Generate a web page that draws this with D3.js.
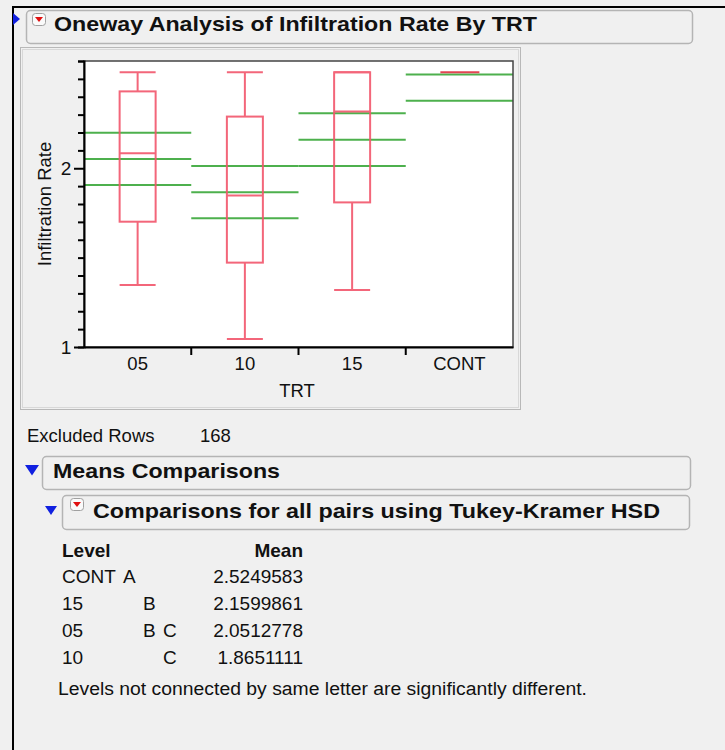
<!DOCTYPE html>
<html>
<head>
<meta charset="utf-8">
<script src="https://cdn.jsdelivr.net/npm/d3@7"></script>
<style>
  body { margin: 0; background: #f0f0f0; }
  svg { display: block; font-family: "Liberation Sans", Arial, sans-serif; }
</style>
</head>
<body>
<svg id="chart" width="725" height="750"></svg>
<script>
// Data
var levels = ["05", "10", "15", "CONT"];
var whiskerHigh = [2.537, 2.537, 2.537, 2.537];
var q3 = [2.430, 2.289, 2.537, 2.537];
var median = [2.084, 1.847, 2.318, 2.537];
var q1 = [1.701, 1.472, 1.809, 2.537];
var whiskerLow = [1.347, 1.045, 1.319, 2.537];
var meanLine = [2.0513, 1.8651, 2.1600, 2.5250];
var ciLow = [1.906, 1.720, 2.013, 2.378];
var ciHigh = [2.199, 2.013, 2.307, 2.672];
var yTicks = [1, 2];

// comparison table
var tblLevel = ["CONT", "15", "05", "10"];
var tblLetters = [["A", "", ""], ["", "B", ""], ["", "B", "C"], ["", "", "C"]];
var tblMean = ["2.5249583", "2.1599861", "2.0512778", "1.8651111"];

var red = "#f2566c", green = "#3aa83a";

var svg = d3.select("#chart");

// outer frame lines
svg.append("line").attr("x1", 13).attr("x2", 725).attr("y1", 7).attr("y2", 7)
    .attr("stroke", "#000").attr("stroke-width", 2);
svg.append("line").attr("x1", 13).attr("x2", 13).attr("y1", 6).attr("y2", 750)
    .attr("stroke", "#000").attr("stroke-width", 2);

function outlineBox(x, y, w, h) {
    svg.append("rect").attr("x", x + 0.5).attr("y", y + 0.5).attr("width", w).attr("height", h)
        .attr("rx", 4).attr("fill", "#f0f0f0").attr("stroke", "#b4b4b4").attr("stroke-width", 1.5);
}
function blueTri(x, y, s) {
    svg.append("path").attr("d", "M" + x + "," + y + "L" + (x + s) + "," + y + "L" + (x + s / 2) + "," + (y + s * 0.75) + "Z")
        .attr("fill", "#1020e0");
}
function redIcon(x, y) {
    svg.append("rect").attr("x", x + 0.5).attr("y", y + 0.5).attr("width", 13).attr("height", 12)
        .attr("rx", 3).attr("fill", "#fafafa").attr("stroke", "#a0a0a0");
    svg.append("path").attr("d", "M" + (x + 3) + "," + (y + 4) + "L" + (x + 11) + "," + (y + 4) + "L" + (x + 7) + "," + (y + 9) + "Z")
        .attr("fill", "#e01010");
}
function title(x, y, t, len) {
    svg.append("text").attr("x", x).attr("y", y).text(t)
        .attr("font-size", 21).attr("font-weight", "bold").attr("fill", "#111")
        .attr("textLength", len).attr("lengthAdjust", "spacingAndGlyphs");
}

// title bar
outlineBox(26, 10, 666, 33);
svg.append("path").attr("d", "M13,13L20,19L13,25Z").attr("fill", "#1020e0");
redIcon(32, 13);
title(54, 31, "Oneway Analysis of Infiltration Rate By TRT", 483);

// plot panel
svg.append("rect").attr("x", 20.5).attr("y", 47.5).attr("width", 500).attr("height", 362)
    .attr("fill", "#f0f0f0").attr("stroke", "#b8b8b8").attr("stroke-width", 1);
svg.append("rect").attr("x", 22.5).attr("y", 49.5).attr("width", 496).attr("height", 358)
    .attr("fill", "none").attr("stroke", "#d8d8d8").attr("stroke-width", 1);

var margin = { left: 84, top: 61, right: 513, bottom: 347 };

var x = d3.scaleBand().domain(levels).range([margin.left, margin.right]);
var y = d3.scaleLinear().domain([1, 2.6]).range([margin.bottom, margin.top]);

var plot = svg.append("g");
plot.append("rect").attr("x", margin.left).attr("y", margin.top)
    .attr("width", margin.right - margin.left).attr("height", margin.bottom - margin.top)
    .attr("fill", "#fff");

svg.append("clipPath").attr("id", "clip").append("rect")
    .attr("x", margin.left).attr("y", margin.top)
    .attr("width", margin.right - margin.left).attr("height", margin.bottom - margin.top);

var marks = plot.append("g").attr("clip-path", "url(#clip)");

// green mean / confidence lines
levels.forEach(function(lv, i) {
    [ciHigh[i], meanLine[i], ciLow[i]].forEach(function(v) {
        marks.append("line")
            .attr("x1", x(lv)).attr("x2", x(lv) + x.bandwidth())
            .attr("y1", y(v)).attr("y2", y(v))
            .attr("stroke", green).attr("stroke-width", 2).attr("opacity", 0.9);
    });
});

// box plots
var boxW = 36;
levels.forEach(function(lv, i) {
    var cx = x(lv) + x.bandwidth() / 2;
    var g = marks.append("g").attr("stroke", red).attr("stroke-width", 2).attr("fill", "none").attr("opacity", 0.9);
    if (q3[i] === q1[i]) {
        g.append("line").attr("x1", cx - 19).attr("x2", cx + 20)
            .attr("y1", y(median[i])).attr("y2", y(median[i])).attr("stroke", "#e03040");
        return;
    }
    g.append("line").attr("x1", cx).attr("x2", cx).attr("y1", y(whiskerHigh[i])).attr("y2", y(q3[i]));
    g.append("line").attr("x1", cx).attr("x2", cx).attr("y1", y(q1[i])).attr("y2", y(whiskerLow[i]));
    g.append("line").attr("x1", cx - boxW / 2).attr("x2", cx + boxW / 2)
        .attr("y1", y(whiskerHigh[i])).attr("y2", y(whiskerHigh[i]));
    g.append("line").attr("x1", cx - boxW / 2).attr("x2", cx + boxW / 2)
        .attr("y1", y(whiskerLow[i])).attr("y2", y(whiskerLow[i]));
    g.append("rect").attr("x", cx - boxW / 2).attr("y", y(q3[i]))
        .attr("width", boxW).attr("height", y(q1[i]) - y(q3[i]));
    g.append("line").attr("x1", cx - boxW / 2).attr("x2", cx + boxW / 2)
        .attr("y1", y(median[i])).attr("y2", y(median[i]));
});

// frame
plot.append("rect").attr("x", margin.left).attr("y", margin.top)
    .attr("width", margin.right - margin.left).attr("height", margin.bottom - margin.top)
    .attr("fill", "none").attr("stroke", "#444").attr("stroke-width", 1.5);

// y axis
var yAxis = d3.axisLeft(y).tickValues(d3.range(1, 2.61, 0.1)).tickSize(6).tickFormat("");
var gy = svg.append("g").attr("transform", "translate(" + margin.left + ",0)").call(yAxis);
gy.select(".domain").attr("stroke", "#000").attr("stroke-width", 2);
gy.selectAll(".tick line").attr("stroke", "#000").attr("stroke-width", 2);
gy.selectAll(".tick").filter(function(d) { return yTicks.some(function(t) { return Math.abs(t - d) < 1e-6; }); })
    .select("line").attr("x2", -10);
yTicks.forEach(function(t) {
    svg.append("text").attr("x", 66).attr("y", y(t)).attr("dy", "0.36em")
        .attr("text-anchor", "middle").attr("font-size", 19).attr("fill", "#111").text(t);
});
svg.append("text").attr("transform", "translate(51," + ((margin.top + margin.bottom) / 2) + ") rotate(-90)")
    .attr("text-anchor", "middle").attr("font-size", 18.5).attr("fill", "#111").text("Infiltration Rate");

// x axis
var gx = svg.append("g").attr("transform", "translate(0," + margin.bottom + ")")
    .call(d3.axisBottom(x).tickSize(0).tickPadding(10));
gx.select(".domain").attr("stroke", "#000").attr("stroke-width", 2);
gx.selectAll(".tick text").attr("font-size", 18.5).attr("fill", "#111")
    .attr("font-family", "Liberation Sans, Arial, sans-serif");
levels.slice(1).forEach(function(lv) {
    svg.append("line").attr("x1", x(lv)).attr("x2", x(lv)).attr("y1", margin.bottom).attr("y2", margin.bottom + 8)
        .attr("stroke", "#000").attr("stroke-width", 2);
});
svg.append("text").attr("x", 297).attr("y", 397)
    .attr("text-anchor", "middle").attr("font-size", 18.5).attr("fill", "#111").text("TRT");

// excluded rows
svg.append("text").attr("x", 27).attr("y", 442).attr("font-size", 18.5).attr("fill", "#111").text("Excluded Rows");
svg.append("text").attr("x", 200).attr("y", 442).attr("font-size", 18.5).attr("fill", "#111").text("168");

// means comparisons
blueTri(25, 465, 14);
outlineBox(42, 456, 648, 33);
title(53, 478, "Means Comparisons", 227);

blueTri(45, 506, 12);
outlineBox(62, 495, 627, 34);
redIcon(70, 498);
title(93, 518, "Comparisons for all pairs using Tukey-Kramer HSD", 567);

// table
var tbl = svg.append("g").attr("font-size", 19).attr("fill", "#111");
tbl.append("text").attr("x", 62).attr("y", 557).attr("font-weight", "bold").text("Level");
tbl.append("text").attr("x", 303).attr("y", 557).attr("font-weight", "bold").attr("text-anchor", "end").text("Mean");
var letterX = [123, 143, 163];
tblLevel.forEach(function(lv, i) {
    var yy = 583 + i * 27;
    tbl.append("text").attr("x", 62).attr("y", yy).text(lv);
    tblLetters[i].forEach(function(l, j) {
        if (l) tbl.append("text").attr("x", letterX[j]).attr("y", yy).text(l);
    });
    tbl.append("text").attr("x", 303).attr("y", yy).attr("text-anchor", "end").text(tblMean[i]);
});
svg.append("text").attr("x", 58).attr("y", 695).attr("font-size", 18).attr("fill", "#111")
    .attr("textLength", 529).attr("lengthAdjust", "spacingAndGlyphs")
    .text("Levels not connected by same letter are significantly different.");
</script>
</body>
</html>
